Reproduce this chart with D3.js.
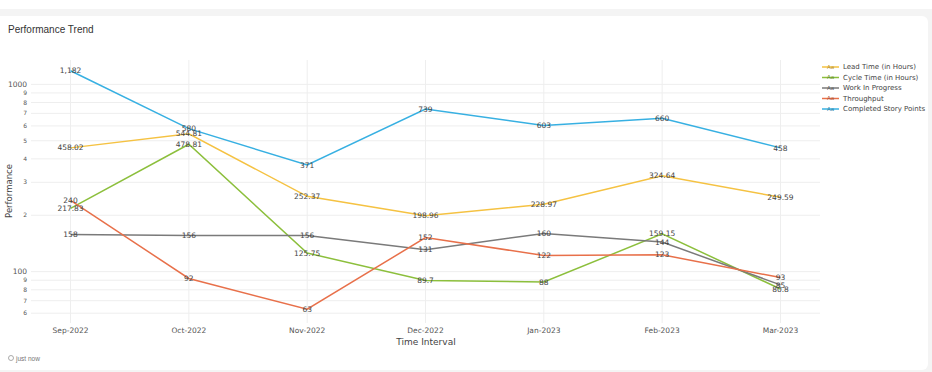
<!DOCTYPE html>
<html>
<head>
<meta charset="utf-8">
<script src="https://cdn.jsdelivr.net/npm/d3@7"></script>
<style>
  html, body { margin: 0; padding: 0; background: #f4f4f4; }
  svg { display: block; }
</style>
</head>
<body>
<svg id="chart" width="932" height="372"></svg>
<script>
// Categories and series values
var months = ["Sep-2022", "Oct-2022", "Nov-2022", "Dec-2022", "Jan-2023", "Feb-2023", "Mar-2023"];
var leadTime = [458.02, 544.81, 252.37, 198.96, 228.97, 324.64, 249.59];
var cycleTime = [217.83, 478.81, 125.75, 89.7, 88, 159.15, 80.8];
var workInProgress = [158, 156, 156, 131, 160, 144, 85];
var throughput = [240, 92, 63, 152, 122, 123, 93];
var storyPoints = [1182, 580, 371, 739, 603, 660, 458];

var seriesNames = ["Lead Time (in Hours)", "Cycle Time (in Hours)", "Work In Progress", "Throughput", "Completed Story Points"];
var seriesColors = ["#f5c242", "#8cbf3c", "#7a7a7a", "#e8704a", "#37b0e2"];

// y ticks (log axis, plotly style)
var majorTicks = [100, 1000];
var minorTicks = [60, 70, 80, 90, 200, 300, 400, 500, 600, 700, 800, 900];

var series = [leadTime, cycleTime, workInProgress, throughput, storyPoints].map(function (vals, i) {
    return { name: seriesNames[i], color: seriesColors[i], values: vals };
});

var svg = d3.select("#chart");

// card background
svg.append("rect").attr("x", 0).attr("y", 0).attr("width", 932).attr("height", 9).attr("fill", "#ffffff");
svg.append("rect")
    .attr("x", -6).attr("y", 16).attr("width", 934).attr("height", 354)
    .attr("rx", 6).attr("fill", "#ffffff");

svg.append("text")
    .attr("x", 8).attr("y", 33)
    .style("font-family", "Liberation Sans, Arial, sans-serif")
    .style("font-size", "10px")
    .attr("fill", "#333")
    .text("Performance Trend");

// plot area
var plotLeft = 31, plotRight = 820, plotTop = 60, plotBottom = 323;

var x = d3.scalePoint()
    .domain(months)
    .range([plotLeft, plotRight])
    .padding(0.334);

var y = d3.scaleLog()
    .domain([53.2, 1349])
    .range([plotBottom, plotTop]);

var plotFont = "DejaVu Sans, Verdana, sans-serif";

// grid
var grid = svg.append("g");
grid.selectAll("line.h")
    .data(majorTicks.concat(minorTicks))
    .enter().append("line")
    .attr("class", "h")
    .attr("x1", plotLeft).attr("x2", plotRight)
    .attr("y1", function (d) { return y(d); })
    .attr("y2", function (d) { return y(d); })
    .attr("stroke", "#eeeeee").attr("stroke-width", 1);
grid.selectAll("line.v")
    .data(months)
    .enter().append("line")
    .attr("class", "v")
    .attr("y1", plotTop).attr("y2", plotBottom)
    .attr("x1", function (d) { return x(d); })
    .attr("x2", function (d) { return x(d); })
    .attr("stroke", "#eeeeee").attr("stroke-width", 1);

// y tick labels
svg.selectAll("text.ymaj")
    .data(majorTicks)
    .enter().append("text")
    .attr("class", "ymaj")
    .attr("x", 27).attr("y", function (d) { return y(d); })
    .attr("dy", "0.35em")
    .attr("text-anchor", "end")
    .style("font-family", plotFont).style("font-size", "7.5px")
    .attr("fill", "#555")
    .text(function (d) { return d; });
svg.selectAll("text.ymin")
    .data(minorTicks)
    .enter().append("text")
    .attr("class", "ymin")
    .attr("x", 27).attr("y", function (d) { return y(d); })
    .attr("dy", "0.35em")
    .attr("text-anchor", "end")
    .style("font-family", plotFont).style("font-size", "6px")
    .attr("fill", "#555")
    .text(function (d) { return String(d)[0]; });

// x tick labels
svg.selectAll("text.xt")
    .data(months)
    .enter().append("text")
    .attr("class", "xt")
    .attr("x", function (d) { return x(d); })
    .attr("y", 333)
    .attr("text-anchor", "middle")
    .style("font-family", plotFont).style("font-size", "7.5px")
    .attr("fill", "#555")
    .text(function (d) { return d; });

// axis titles
svg.append("text")
    .attr("x", 426).attr("y", 345)
    .attr("text-anchor", "middle")
    .style("font-family", plotFont).style("font-size", "9px")
    .attr("fill", "#444")
    .text("Time Interval");
svg.append("text")
    .attr("transform", "translate(12,191) rotate(-90)")
    .attr("text-anchor", "middle")
    .style("font-family", plotFont).style("font-size", "8.5px")
    .attr("fill", "#444")
    .text("Performance");

// lines
var line = d3.line()
    .x(function (d, i) { return x(months[i]); })
    .y(function (d) { return y(d); });

svg.append("g").selectAll("path")
    .data(series)
    .enter().append("path")
    .attr("d", function (d) { return line(d.values); })
    .attr("fill", "none")
    .attr("stroke", function (d) { return d.color; })
    .attr("stroke-width", 1.5);

// data labels
var fmt = d3.format(",");
series.forEach(function (s) {
    svg.append("g").selectAll("text")
        .data(s.values)
        .enter().append("text")
        .attr("x", function (d, i) { return x(months[i]); })
        .attr("y", function (d) { return y(d); })
        .attr("dy", "0.35em")
        .attr("text-anchor", "middle")
        .style("font-family", plotFont).style("font-size", "7.5px")
        .attr("fill", "#444")
        .text(function (d) { return d >= 1000 ? fmt(d) : d; });
});

// legend
var legend = svg.append("g").attr("transform", "translate(822,67)");
var item = legend.selectAll("g")
    .data(series)
    .enter().append("g")
    .attr("transform", function (d, i) { return "translate(0," + (i * 10.5) + ")"; });
item.append("line")
    .attr("x1", 0).attr("x2", 17)
    .attr("stroke", function (d) { return d.color; })
    .attr("stroke-width", 1.5);
item.append("text")
    .attr("x", 8.5).attr("dy", "0.35em")
    .attr("text-anchor", "middle")
    .style("font-family", plotFont).style("font-size", "5.5px")
    .attr("fill", function (d) { return d3.color(d.color).darker(0.8); })
    .text("Aa");
item.append("text")
    .attr("x", 21).attr("dy", "0.35em")
    .style("font-family", plotFont).style("font-size", "7px")
    .attr("fill", "#444")
    .text(function (d) { return d.name; });

// footer
svg.append("circle")
    .attr("cx", 11).attr("cy", 358).attr("r", 2.5)
    .attr("fill", "none").attr("stroke", "#888").attr("stroke-width", 0.7);
svg.append("text")
    .attr("x", 16).attr("y", 360.5)
    .style("font-family", "Liberation Sans, Arial, sans-serif")
    .style("font-size", "6.5px")
    .attr("fill", "#777")
    .text("just now");
</script>
</body>
</html>
